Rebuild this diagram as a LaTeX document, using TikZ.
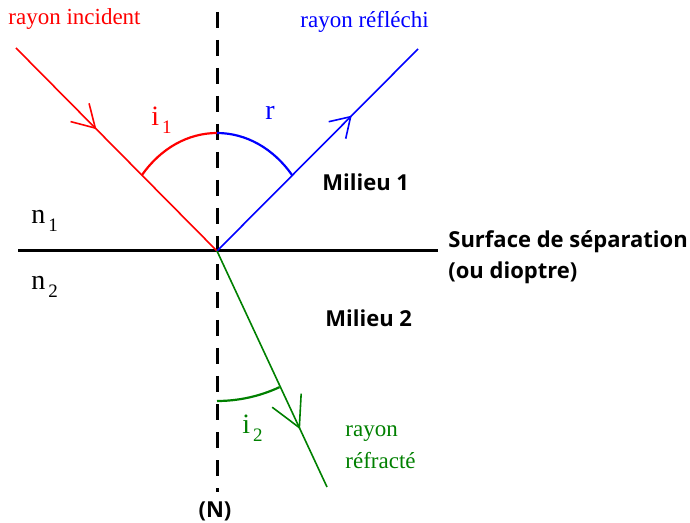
\documentclass[tikz,border=0pt]{standalone}
\usepackage{fontspec}
\setmainfont{Liberation Serif}
\newfontfamily\medfont{Open Sans}
\usetikzlibrary{arrows.meta, decorations.markings}
\definecolor{incid}{RGB}{255,0,0}
\definecolor{refl}{RGB}{0,0,255}
\definecolor{refr}{RGB}{0,128,0}
\newcommand{\lowidx}[2]{#1\hspace{1.5pt}\raisebox{-4pt}{\fontsize{9.5}{9.5}\selectfont #2}}

\begin{document}
\begin{tikzpicture}[x=0.5pt, y=-0.5pt, >=Latex,
  ray/.style={line width=0.8pt},
  anglearc/.style={line width=1.1pt},
  midtip/.style n args={3}{postaction={decorate, decoration={markings,
      mark=at position #1 with {\arrow{Straight Barb[length=#2pt, width=#3pt, line width=0.8pt]}}}}},
  lbl/.style={font=\fontsize{11.5}{14}\selectfont, inner sep=0pt},
  sym/.style={font=\fontsize{14}{16}\selectfont, inner sep=0pt},
  med/.style={font=\medfont\bfseries\fontsize{11}{14}\selectfont, inner sep=0pt}]
\useasboundingbox (0,0) rectangle (690,523);

% ---- points ----
\coordinate (O) at (217,251);        % point d'incidence
\coordinate (src) at (16,48);
\coordinate (rend) at (418,49);
\coordinate (tend) at (327,487);
\coordinate (sl) at (18,251);
\coordinate (sr) at (438,251);
\coordinate (ntop) at (217,12);
\coordinate (nbot) at (217,492);

% ---- surface and normal ----
\draw[line width=1.5pt] (sl) -- (sr);
\draw[line width=1.5pt, dash pattern=on 8pt off 6pt] (ntop) -- (nbot);

% ---- rays ----
\draw[ray, incid, midtip={0.40}{11}{13}] (src) -- (O);
\draw[ray, refl, midtip={0.67}{9.5}{12}] (O) -- (rend);
\draw[ray, refr, midtip={0.755}{15}{16}] (O) -- (tend);

% ---- angles ----
\draw[anglearc, incid] (O) ++(220:98 and 118) arc[start angle=220, end angle=270, x radius=98, y radius=118];
\draw[anglearc, refl] (O) ++(270:98 and 118) arc[start angle=270, end angle=320, x radius=98, y radius=118];
\draw[anglearc, refr] (O) ++(90:150) arc[start angle=90, end angle=65, radius=148];

% ---- labels ----
\node[lbl, incid, anchor=base west] (tincid) at (8,25) {rayon incident};
\node[lbl, refl, anchor=base west] (trefl) at (300,28) {rayon réfléchi};
\node[sym, incid, anchor=base west] (ti1) at (151,126) {\lowidx{i}{1}};
\node[sym, refl, anchor=base west] (tr) at (265,120) {r};
\node[sym, anchor=base west] (tn1) at (31,224) {\lowidx{n}{1}};
\node[sym, anchor=base west] (tn2) at (31,290) {\lowidx{n}{2}};
\node[sym, refr, anchor=base west] (ti2) at (242,433) {\lowidx{i}{2}};
\node[lbl, refr, anchor=base west] (trefr) at (345,437) {rayon};
\node[lbl, refr, anchor=base west] (trefr2) at (345,468) {réfracté};
\node[med, anchor=base west] (tmil1) at (322,191) {Milieu 1};
\node[med, anchor=base west] (tmil2) at (325,327) {Milieu 2};
\node[med, anchor=base west] (tsurf) at (448,248) {Surface de séparation};
\node[med, anchor=base west] (tdiop) at (448,279) {(ou dioptre)};
\node[med, anchor=base] (tnorm) at (215,517) {(N)};
\end{tikzpicture}
\end{document}
